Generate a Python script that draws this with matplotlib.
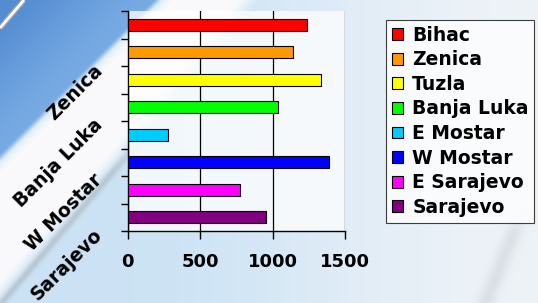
import matplotlib
matplotlib.use("Agg")
import matplotlib.pyplot as plt
import matplotlib.transforms as mtransforms
from matplotlib.patches import Patch
import numpy as np

# bars listed top to bottom, as in the legend
cities = ["Bihac", "Zenica", "Tuzla", "Banja Luka",
          "E Mostar", "W Mostar", "E Sarajevo", "Sarajevo"]
values = [1235, 1143, 1334, 1040, 276, 1392, 775, 952]
colors = ["#ff0000", "#ff9900", "#ffff00", "#00ff00",
          "#00ccff", "#0000ff", "#ff00ff", "#800080"]
axis_labels = ["Zenica", "Banja Luka", "W Mostar", "Sarajevo"]
xticks = [0, 500, 1000, 1500]

W, H = 538, 303
FONT = "DejaVu Sans"


def smooth(e0, e1, v):
    t = np.clip((v - e0) / (e1 - e0), 0, 1)
    return t * t * (3 - 2 * t)


def background() -> np.ndarray:
    yy, xx = np.mgrid[0:H, 0:W].astype(float)
    light_l = np.array([0.80, 0.89, 0.96])
    light_r = np.array([0.93, 0.95, 0.97])
    t = smooth(120, 520, xx)[..., None]
    img = light_l * (1 - t) + light_r * t

    # white swoosh band
    d1 = xx + yy
    d2 = xx + 0.85 * yy
    band = smooth(150, 175, d1) * (1 - smooth(235, 262, d2))
    img = img * (1 - band[..., None]) + np.array([0.98, 0.98, 0.99]) * band[..., None]

    # grey shadow edge of the swoosh
    g = np.exp(-((d2 - 258) / 5.0) ** 2) * smooth(120, 180, yy) * 0.45
    img = img * (1 - g[..., None]) + np.array([0.62, 0.64, 0.67]) * g[..., None]

    # faint grey swoosh, bottom right
    d3 = xx + 0.4 * yy
    g2 = np.exp(-((d3 - 606) / 9.0) ** 2) * smooth(200, 240, yy) * 0.3
    img = img * (1 - g2[..., None]) + np.array([0.70, 0.72, 0.75]) * g2[..., None]

    # blue corner, top left
    blue_a = np.array([0.33, 0.55, 0.83])
    blue_b = np.array([0.47, 0.67, 0.89])
    tb = smooth(0, 160, d1)[..., None]
    blue = blue_a * (1 - tb) + blue_b * tb
    m = (1 - smooth(152, 162, d1))[..., None]
    img = img * (1 - m) + blue * m
    return np.clip(img, 0, 1)


def main() -> None:
    fig = plt.figure(figsize=(W / 100, H / 100), dpi=100)

    bg = fig.add_axes([0, 0, 1, 1], zorder=-2)
    bg.imshow(background(), extent=[0, W, H, 0], aspect="auto",
              interpolation="bilinear")
    bg.plot([0, 24], [28, 0], color="#9aa0a8", lw=4, solid_capstyle="butt")
    bg.plot([0, 24], [28, 0], color="white", lw=2, solid_capstyle="butt")
    bg.set_xlim(0, W)
    bg.set_ylim(H, 0)
    bg.axis("off")

    ax = fig.add_axes([127.7 / W, 1 - 231 / H, 217.3 / W, 220 / H])
    ax.set_facecolor((1, 1, 1, 0.75))

    n = len(cities)
    ypos = [n - 1 - i + 0.5 for i in range(n)]
    ax.barh(ypos, values, height=0.42, color=colors,
            edgecolor="black", linewidth=0.8, zorder=3)

    ax.set_xlim(0, 1500)
    ax.set_ylim(0, n)
    ax.set_xticks(xticks)
    ax.set_xticklabels([str(v) for v in xticks],
                       fontsize=13, fontweight="bold", family=FONT)
    ax.set_yticks(range(n + 1))
    ax.set_yticklabels([])
    ax.tick_params(axis="x", length=6, width=1, pad=10, direction="out")
    ax.tick_params(axis="y", length=5, width=1, direction="out")
    ax.grid(axis="x", color="black", linewidth=0.9, zorder=1)
    ax.set_axisbelow(True)
    for side in ("top", "right"):
        ax.spines[side].set_visible(False)
    for side in ("left", "bottom"):
        ax.spines[side].set_linewidth(1)

    # rotated category labels, every second one, at the lower boundary
    trans = mtransforms.blended_transform_factory(ax.transAxes, ax.transData)
    for lab in axis_labels:
        k = cities.index(lab)
        ax.text(-0.13, n - 1 - k - 0.05, lab, transform=trans,
                rotation=45, rotation_mode="anchor", ha="right", va="center",
                fontsize=13.5, fontweight="bold", family=FONT)

    handles = [Patch(facecolor=c, edgecolor="black", linewidth=0.8)
               for c in colors]
    leg = fig.legend(handles, cities, loc="upper left",
                     bbox_to_anchor=(386 / W, 1 - 20 / H),
                     bbox_transform=fig.transFigure,
                     prop={"family": FONT, "weight": "bold", "size": 13.5},
                     frameon=True, fancybox=False, framealpha=0.75,
                     edgecolor="black", handlelength=0.6, handleheight=0.6,
                     handletextpad=0.5, labelspacing=0.3, borderpad=0.3,
                     borderaxespad=0)
    leg.get_frame().set_linewidth(0.8)

    fig.savefig("out.png", dpi=100)
    plt.close(fig)


if __name__ == "__main__":
    main()
